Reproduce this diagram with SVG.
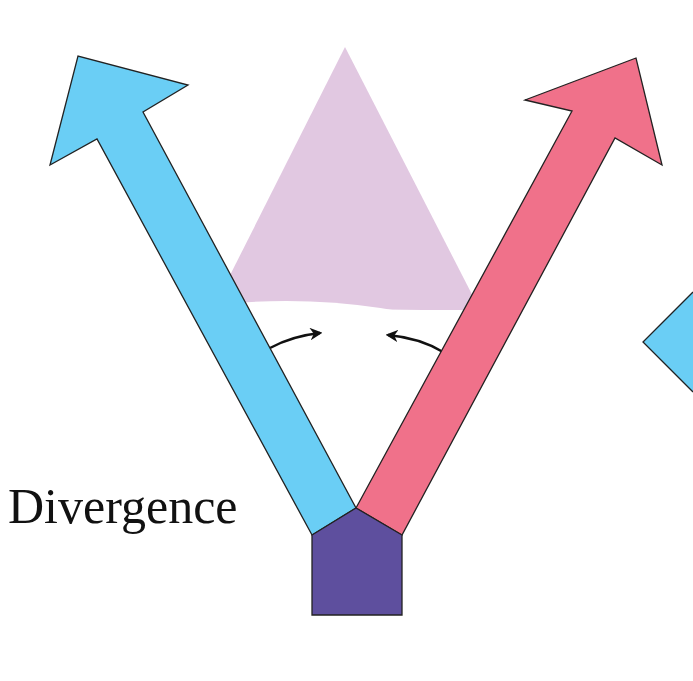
<svg xmlns="http://www.w3.org/2000/svg" width="693" height="681" viewBox="0 0 693 681">
<style>
.s{stroke:#222;stroke-width:1.3;stroke-linejoin:miter}
.a{fill:none;stroke:#111;stroke-width:2.5}
</style>
<defs>
<marker id="m" viewBox="0 0 10 10" refX="8" refY="5" markerWidth="5" markerHeight="5" orient="auto"><path d="M0,0 L10,5 L0,10 L3,5 Z" fill="#111"/></marker>
</defs>
<rect width="693" height="681" fill="#fff"/>
<g id="cone"><path d="M345,47 L480,310 Q345,310 215,305 Z" fill="#e1c8e1"/><path d="M215,305 Q345,290 480,330 L480,420 L215,420 Z" fill="#fff"/><path d="M255,360 Q345,300 445,360 L445,420 L255,420Z" fill="#fff"/></g>
<g id="connectors">
<path class="a" d="M270,348 Q292,336 320,333" marker-end="url(#m)"/>
<path class="a" d="M443,352 Q420,338 388,335" marker-end="url(#m)"/>
</g>
<g id="blue-arrow"><path class="s" fill="#6acef5" d="M312,535 L97,139 L50,165 L78,56 L188,85 L143,112 L356,508 Z"/></g>
<g id="red-arrow"><path class="s" fill="#f0718a" d="M356,508 L572,111 L525,100 L636,58 L662,165 L615,138 L402,535 Z"/></g>
<g id="base"><path class="s" fill="#5e4f9e" d="M356,508 L402,535 L402,615 L312,615 L312,535 Z"/></g>
<g id="diamond"><path class="s" fill="#6acef5" d="M693,292 L643,342 L693,392"/></g>
<text x="8" y="523" font-family="Liberation Serif, serif" font-size="50" fill="#111">Divergence</text>
</svg>
